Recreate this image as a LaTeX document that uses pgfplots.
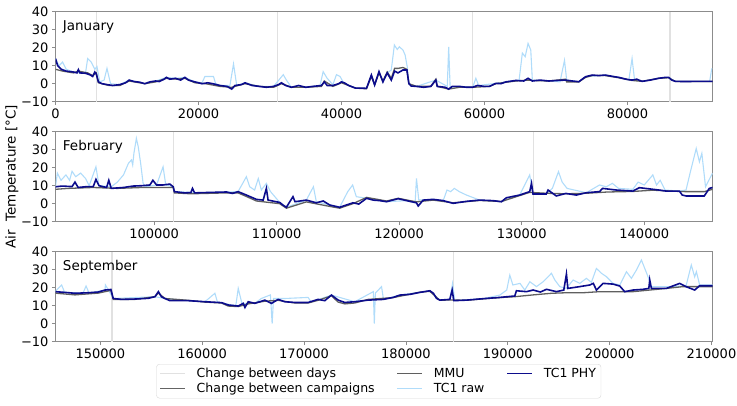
\documentclass[border=0pt]{standalone}
\usepackage{fontspec}
\setmainfont{DejaVu Sans}
\usepackage{pgfplots}
\usepackage{pgfplotstable}
\pgfplotsset{compat=1.18}

\definecolor{rawc}{RGB}{176,220,250}
\definecolor{mmuc}{RGB}{95,95,95}
\definecolor{phyc}{RGB}{12,12,140}
\definecolor{dayc}{RGB}{225,225,225}
\definecolor{campc}{RGB}{100,100,100}
\definecolor{framec}{RGB}{140,140,140}

% ---------------- Panel 1 (January) ----------------
\pgfplotstableread{
x y
0 14
300 10
800 8
1500 7
2500 6.5
3000 6
3200 7.8
3400 6
4200 5.8
4800 5
5200 4
5500 6.5
5700 5.5
6000 1
6500 0
7200 -0.5
8000 -1
9000 -0.5
9800 0.5
10300 2
11000 1.2
11800 0.8
12500 0
13200 1
14000 1.5
14500 1.2
15200 2.5
15500 3.5
16000 2.5
16800 3
17500 2
18100 3.5
18600 2
19500 1
20500 0
21300 0.5
22000 0
23000 -1
24000 -1.5
24650 -3
25100 -1
26000 -0.5
26500 0.5
27500 -1
28500 -1.5
29500 -2
30500 -1.5
31200 -0.5
31600 0.5
32200 -1
33000 -2
34000 -1
35000 -2
36000 -1.5
37200 -1
37600 1
38000 -1
38800 -1
39600 0
40000 1
40400 0.5
41000 -1
42000 -2.5
43000 -2.5
43500 -2.6
44180 4.8
44640 -0.7
45250 6.7
45800 1
46400 6
46970 2
47430 7
47900 6
48600 7.6
49150 7.6
49430 0
49750 -1.3
50500 -1.5
51500 -2
52500 -1.5
53200 2
53400 -1.5
54500 -2
55000 -3
55500 -1.5
56500 -1.5
57500 -2
58350 -2
59000 -1
60000 -1.5
60700 -1.5
61600 0.2
62300 0
63000 1
64400 1.8
65500 1.5
66100 3
66700 1.5
67800 2
69000 1.5
70200 1.8
71350 2
72300 1.5
73200 1.1
74150 3.9
75070 4.8
76000 4.5
76900 4.8
78000 4
78800 3.5
79800 2.5
80650 2
81300 2.5
82050 1.3
83200 2
84370 3
85300 3.5
85770 3.5
86200 2
86700 1.3
88000 1.2
90000 1.3
91500 1.3
91900 1.3
}\phyA

\pgfplotstableread{
x y
0 8
1000 7
2500 6
3200 7
4500 6
5200 4.5
5700 6
6000 0.5
7500 -1
9000 -1
10300 1.5
12500 0
14000 1
15500 3
17000 2.5
18100 3
19500 0.5
21000 0
23000 -1.5
24650 -2
25100 -1.5
26500 0
28500 -1.5
30500 -2
31600 0
33000 -2
35000 -2
37200 -1.5
37600 1.5
38800 -1.5
40000 0.5
42000 -2.5
43500 -2.8
44180 4
44640 -0.5
45250 6
45800 1.5
46400 6.5
46970 3
47430 8.5
47900 8.5
48600 9
49150 8
49430 0
50500 -1.5
52500 -1.5
53200 2.5
53400 -1.5
55000 -3
56500 -2
58350 -2
60700 -1.5
61600 0
63000 0.8
64400 1.5
66100 2
66700 1.8
69000 1.5
71350 2.5
71500 1
73200 1
74150 3.5
75070 4.5
76900 4.5
78800 3.3
80650 1.8
82050 1.3
84370 3
85770 3.3
86700 1.2
91900 1.2
}\mmuA

\pgfplotstableread{
x y
0 14
500 10
1000 12
1500 8
2500 6.5
3500 6
4200 6
4500 14
5000 12
5500 8
5800 9.5
6200 1
6800 2
7200 8.5
7700 0
9000 -0.5
10300 2
12500 0
14000 1.5
15500 3.5
16800 3
18100 3.5
19500 1
20500 0.5
20900 4
22100 4
22400 0
23000 -1
24400 -1
24900 11
25350 -1
26500 0.5
28500 -1.5
30500 -1.5
31860 5
32300 2
33000 -2
35000 -2
37000 -1
37440 6.7
38000 3
38800 -0.5
39300 5
39800 4
40300 0.5
42000 -2.5
43500 -2.6
44180 4.8
44640 -0.7
45250 6.7
45800 1
46400 6
46970 7.6
47400 21.5
47800 19
48100 20.5
48600 18.7
48900 16
49200 9.4
49430 0
50500 -1.5
53200 2
54800 -1.5
55000 20.5
55200 -2
56500 -1.5
58350 -2
58800 3
59200 -1
61600 0.2
63000 1
64400 1.8
64850 2
65300 17
65700 15
66100 22.4
66480 18.7
66700 2
69000 1.5
70570 1
71200 13
71500 2
73200 1.1
74150 3.9
76900 4.8
78800 3.5
79800 2.5
80200 2
80650 14
81000 2
82050 1.3
84370 3
85770 3.5
86700 1.3
91500 1.3
91800 8.5
}\rawA

% ---------------- Panel 2 (February) ----------------
\pgfplotstableread{
x y
91950 9.4
92500 9.8
93300 9.5
93540 12
93800 9
94500 9.5
95030 9.5
95250 13.5
95500 10
96120 9
96300 13
96500 8.5
97500 9
98290 9.8
99000 10
99650 10.4
99900 13
100200 10.4
100730 10.4
101280 10.9
101560 9.4
101650 6.7
102500 6
103000 6.2
103130 8.5
103300 6
103730 6.1
104800 6.3
105900 6.5
106400 5.7
106850 6.7
107530 4.8
108350 2.4
108900 2
109160 8.5
109300 2
110250 0.7
110500 -0.7
110790 -2
111330 3.9
111500 1.1
112420 2
113240 0.5
113800 1.5
114320 -0.7
115140 -2
116220 0.5
116700 -0.2
117340 3
117880 2
118420 1.7
118970 1.1
119920 2.8
120600 1.7
121410 0.5
121550 -1.3
121960 2
122770 2.4
123590 1.7
124400 0.2
125490 1.3
126570 2
127660 1.7
128340 1.1
128750 3.3
129830 4.8
130650 6.7
130800 11.3
130920 5.4
132000 5.4
132150 7.6
132820 4.3
133600 5.7
134450 4.8
135270 6.1
136350 6.7
136600 8.5
137710 7.6
139070 7
139600 8.9
140700 8
141200 7.6
141790 7
142870 7
143100 4.8
143410 4.3
144900 4.3
145310 8.5
145570 9
}\phyB

\pgfplotstableread{
x y
91950 8
93000 8.5
95000 9
97000 8.5
99000 9
100730 9
101560 9
101650 6
103000 5.5
105900 6
106850 6
107530 4
108350 1.5
110250 0
110790 -2.5
112420 1
114320 -1.5
115140 -2.5
116220 0
117340 3.5
118970 1.5
119920 3
121410 1
122770 2
124400 0.5
126570 1.8
128340 1.2
129830 4.5
130650 6.3
132000 5.8
133600 5.5
135270 5.8
137000 6.5
139070 6.8
140700 7.5
142870 6.8
143410 6.7
144900 6.7
145570 8
}\mmuB

\pgfplotstableread{
x y
91950 9.4
92100 17
92400 13
92800 16
93100 13
93300 18
93600 15
94000 17
94400 14
94700 10
95250 20.5
95500 10
96500 9.4
97000 12
97500 16
97900 22.4
98150 24.3
98250 21.5
98350 28
98550 36.3
98700 31.7
98900 22.4
99100 11.3
99300 9.4
100200 10.4
100730 20.5
100950 10.4
101560 9.4
101650 6.7
103730 6.1
105900 6.5
106850 6.7
107530 15
107800 9.4
108200 7.6
108500 14
108750 7.6
109160 11.3
109500 6.7
110250 0.7
110790 -2
112420 2
113000 9.4
113240 1
114320 -0.7
115140 -2
115800 6.7
116200 10.4
116500 3.9
117340 3
118970 1.1
120600 1.7
121300 0.5
121410 14
121600 2
122770 2.4
123590 1.7
123900 7.6
124200 6.7
124500 8.5
124900 6.7
125490 4.8
126570 2
128340 1.1
129830 4.8
130650 16
130920 5.4
132000 5.4
132500 8.5
133000 17.8
133300 12
133700 8.5
135270 6.1
136350 10.4
136900 9.4
137400 11.3
137900 8.5
139070 8
139500 12
140000 10.4
140700 16
141000 10.4
141300 13
141700 7.6
142870 7
143410 7.6
143800 18.7
144240 30.7
144500 23.3
144700 28
145000 9.4
145570 17
}\rawB

% ---------------- Panel 3 (September) ----------------
\pgfplotstableread{
x y
145550 17.8
146500 17.4
147510 16.9
148820 17.2
149800 17.6
150460 18.7
151040 19
151270 14
152090 13.5
153400 13.7
154700 14.1
155360 15
155700 17.8
156000 15
156340 14
156830 12.8
158630 12.8
160270 12.2
161900 11.7
162550 10.4
163540 9.8
164025 11.3
164200 9
164520 12.2
165170 11.3
166150 13.1
166800 11.3
167460 13.5
168110 12.2
169090 11.8
170400 11.8
171380 13.5
172040 12.8
172690 15.9
173350 13.1
174000 11.8
174980 12.2
176290 13.1
177770 13.5
178750 14.6
179410 15.9
180390 16.3
181370 17.4
182350 18.3
182700 16.9
183000 14.1
183330 13.1
184310 13.5
184540 18.7
184700 12.8
185950 13.1
187590 13.9
189220 14.6
190690 15.4
190850 18.3
191840 17.8
192490 18.7
193200 17.6
193800 19.1
194780 17.8
195500 18.7
195760 27.6
195900 19.6
197070 20.6
198050 21.5
198400 22.4
198700 18.7
199360 22.4
200340 22
201000 20.9
201480 17.8
202300 18.7
203280 19.1
203850 19.6
203940 24.3
204100 19.6
205570 19.6
206880 22.4
207500 20.6
208350 18.7
208840 21.1
210100 21.1
}\phyC

\pgfplotstableread{
x y
145550 17
147500 16
149800 17
151040 18.5
151270 13.5
153400 13.5
155360 15
155700 17
156340 14
158630 13
160270 12
161900 11.5
162550 9.8
163540 9.5
164520 11
166150 12.5
167460 13
169090 11.5
170400 11.5
171380 13
172690 15.5
173350 12
174000 11
174980 11.5
176290 13.5
178750 14.5
181370 17.5
182350 18
183330 13
184310 13.2
185950 13
187590 13.8
189220 14.5
190690 15
192490 16
194300 16.9
195760 17.2
197400 17.2
199030 17.8
200700 17.8
202300 17.8
203940 18.7
205570 19.6
207200 20.6
208840 20.6
210100 20.6
}\mmuC

\pgfplotstableread{
x y
145550 17.8
146200 21.5
146500 17.4
148300 17
148600 20.9
148900 17
150460 18.7
150500 21.5
150800 18.7
151270 14
155360 15
156340 14
158630 12.8
160270 12.2
161250 16.9
161500 12
163300 10
163540 19.6
163900 11.3
165170 11.3
165800 14
166700 16
166870 0
167000 14
168110 14
170400 14.6
170700 12
172690 15.9
174980 12.2
176800 17.8
176900 0
177000 17
177610 20.6
177800 13.5
179410 15.9
182350 18.3
183330 13.1
184310 13.5
184580 22.4
184800 12.8
187590 13.9
189220 15.9
189900 18.7
190200 27
190500 21.5
191200 22.4
191670 18.7
192170 23.3
192820 20.6
193470 23.3
193960 26.1
194290 28
194620 24.3
195110 20.6
195760 19.6
196420 24.3
197070 22.4
197720 25.2
198210 23
198700 30.7
199200 28
199690 26.1
200340 22.4
201000 21.5
201650 28.9
202140 25.2
202630 29.8
203120 35.4
203450 30.7
203770 26.1
204100 20.6
206000 20.6
207500 21
208020 32.6
208350 26
208520 28.9
208840 21.5
210100 21.5
}\rawC

\pgfplotsset{
  panel/.style={
    width=657pt, height=90pt, scale only axis,
    ymin=-10, ymax=40,
    ytick={-10,0,10,20,30,40},
    yticklabels={−10,0,10,20,30,40},
    axis line style={framec, line width=0.8pt},
    tick style={framec, line width=0.8pt},
    tick align=outside, major tick length=3.5pt,
    xtick pos=left, ytick pos=left,
    tick label style={font=\fontsize{13}{15}\selectfont, black},
    /pgf/number format/assume math mode=true,
    x tick label style={/pgf/number format/.cd, fixed, precision=0, 1000 sep={}},
    scaled x ticks=false,
    minor tick num=0,
  },
  rawstyle/.style={rawc, line width=1.1pt, forget plot},
  mmustyle/.style={mmuc, line width=1.3pt, forget plot},
  phystyle/.style={phyc, line width=1.6pt, forget plot},
  daystyle/.style={dayc, line width=1.2pt, forget plot},
}

\begin{document}
\begin{tikzpicture}
\useasboundingbox (0,0) rectangle (737pt,-406pt);

% ---------- January ----------
\begin{axis}[panel, at={(55.5pt,-11.7pt)}, anchor=north west,
  xmin=0, xmax=91900, xtick={0,20000,40000,60000,80000}]
\addplot[daystyle] coordinates {(5700,-10) (5700,40)};
\addplot[daystyle] coordinates {(31100,-10) (31100,40)};
\addplot[daystyle] coordinates {(58300,-10) (58300,40)};
\addplot[daystyle] coordinates {(85950,-10) (85950,40)};
\addplot[rawstyle] table {\rawA};
\addplot[mmustyle] table {\mmuA};
\addplot[phystyle] table {\phyA};
\node[anchor=north west, inner sep=0pt, font=\fontsize{13.5}{16}\selectfont] at (rel axis cs:0.011,0.905) {January};
\end{axis}

% ---------- February ----------
\begin{axis}[panel, at={(55.5pt,-131.7pt)}, anchor=north west,
  xmin=91950, xmax=145570, xtick={100000,110000,120000,130000,140000}]
\addplot[daystyle] coordinates {(101600,-10) (101600,40)};
\addplot[daystyle] coordinates {(130950,-10) (130950,40)};
\addplot[rawstyle] table {\rawB};
\addplot[mmustyle] table {\mmuB};
\addplot[phystyle] table {\phyB};
\node[anchor=north west, inner sep=0pt, font=\fontsize{13.5}{16}\selectfont] at (rel axis cs:0.011,0.905) {February};
\end{axis}

% ---------- September ----------
\begin{axis}[panel, at={(55.5pt,-251.7pt)}, anchor=north west,
  xmin=145600, xmax=210100,
  xtick={150000,160000,170000,180000,190000,200000,210000},
  legend columns=3,
  legend cell align=left,
  legend image code/.code={\draw[#1] (0pt,0pt) -- (25pt,0pt);},
  legend style={at={(0.492,-0.248)}, anchor=north,
    draw={rgb,255:red,215;green,215;blue,215}, rounded corners=3pt,
    font=\fontsize{12.5}{15}\selectfont,
    inner xsep=3pt, inner ysep=2pt,
    /tikz/every even column/.append style={column sep=20pt},
    /tikz/every odd column/.append style={column sep=9pt}},
  ]
\addlegendimage{dayc, line width=1.2pt}
\addlegendentry{Change between days}
\addlegendimage{mmuc, line width=1.2pt}
\addlegendentry{MMU}
\addlegendimage{phyc, line width=1.4pt}
\addlegendentry{TC1 PHY}
\addlegendimage{campc, line width=1.2pt}
\addlegendentry{Change between campaigns}
\addlegendimage{rawc, line width=1.2pt}
\addlegendentry{TC1 raw}
\addplot[daystyle] coordinates {(151150,-10) (151150,40)};
\addplot[daystyle] coordinates {(184650,-10) (184650,40)};
\addplot[rawstyle] table {\rawC};
\addplot[mmustyle] table {\mmuC};
\addplot[phystyle] table {\phyC};
\node[anchor=north west, inner sep=0pt, font=\fontsize{13.5}{16}\selectfont] at (rel axis cs:0.011,0.905) {September};
\end{axis}

\node[rotate=90, font=\fontsize{13.5}{16}\selectfont] at (12pt,-176.7pt) {Air~~Temperature [°C]};
\end{tikzpicture}
\end{document}
